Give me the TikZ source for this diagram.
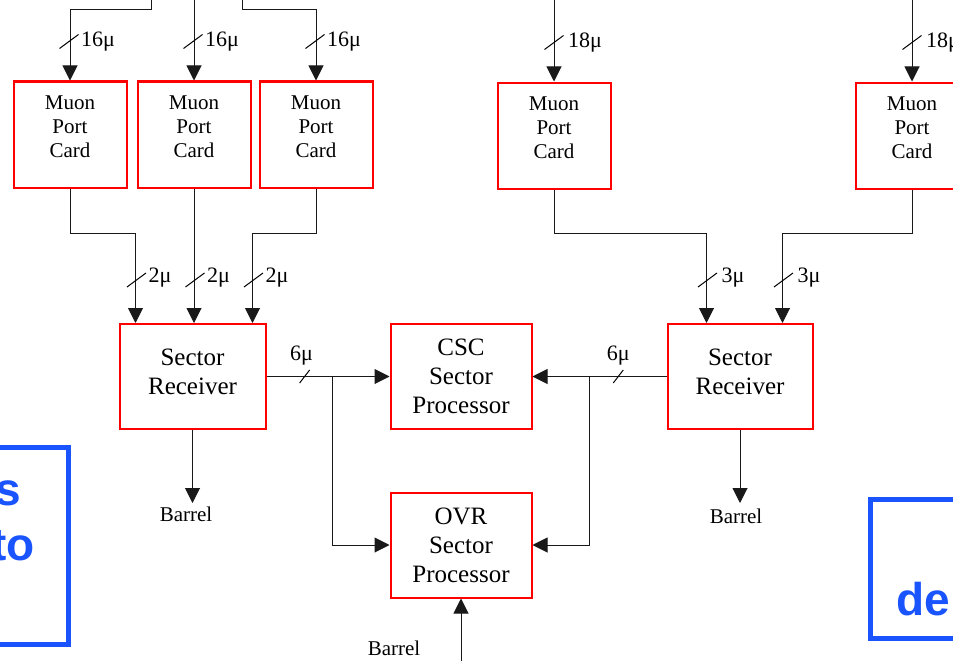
\documentclass[tikz,border=0pt]{standalone}
\usepackage{fontspec}
\setmainfont{Liberation Serif}
\setsansfont{Liberation Sans}
\usetikzlibrary{arrows.meta,calc}
\definecolor{boxred}{RGB}{255,0,0}
\definecolor{slideblue}{RGB}{26,84,255}
\newcommand\mpcsize{\fontsize{21}{24}\selectfont}
\newcommand\unitsize{\fontsize{25}{29}\selectfont}
\newcommand\bussize{\fontsize{22}{24}\selectfont}
\newcommand\barrelsize{\fontsize{21}{24}\selectfont}
\newcommand\slidesize{\fontsize{46}{54}\selectfont}
\begin{document}
\begin{tikzpicture}[x=1pt,y=-1pt,
  wire/.style={line width=1pt,black!90},
  arr/.style={wire,-{Triangle[length=15pt,width=15pt]}},
  redbox/.style={draw=boxred,line width=2pt,inner sep=0pt},
  card/.style={redbox,minimum width=113pt,minimum height=106pt,
    label={[font=\mpcsize,align=center,yshift=8pt]center:Muon\\Port\\Card}},
  unit/.style={redbox,font=\unitsize,align=center,minimum height=105pt},
  receiver/.style={redbox,minimum height=105pt,
    label={[font=\unitsize,align=center,yshift=5pt]center:Sector\\Receiver}},
  buslabel/.style={font=\bussize,inner sep=0pt},
  barrel/.style={font=\barrelsize,inner sep=0pt},
  slideframe/.style={draw=slideblue,line width=5pt},
  slidetext/.style={font=\slidesize\sffamily\bfseries,text=slideblue,inner sep=0pt},
  busmark/.pic={\draw[line width=1pt] (-9.5,7) -- (9.5,-7);},
  hbusmark/.pic={\draw[line width=1pt] (-5,6.5) -- (5,-6.5);}
]
\useasboundingbox (0,0) rectangle (953,661);
\clip (0,0) rectangle (953,661);

% ---- port cards ----
\node[card] (mpc1) at (70,134.5) {};
\node[card] (mpc2) at (194,134.5) {};
\node[card] (mpc3) at (316,134.5) {};
\node[card] (mpc4) at (554,135.5) {};
\node[card] (mpc5) at (912,135.5) {};

% ---- receivers and processors ----
\node[receiver,minimum width=146pt] (sr1) at (192.5,376.5) {};
\node[receiver,minimum width=145pt] (sr2) at (740,376.5) {};
\node[unit,minimum width=141pt] (csc) at (461,376.5) {CSC\\Sector\\Processor};
\node[unit,minimum width=141pt] (ovr) at (461,545) {OVR\\Sector\\Processor};

% ---- inputs to the port cards ----
\coordinate (t1) at (151,0);
\coordinate (t2) at (194,0);
\coordinate (t3) at (242,0);
\coordinate (t4) at (554,0);
\coordinate (t5) at (912,0);
\draw[arr] (t1) -- ++(0,10) -| (mpc1.north);
\draw[arr] (t2) -- (mpc2.north);
\draw[arr] (t3) -- ++(0,10) -| (mpc3.north);
\draw[arr] (t4) -- (mpc4.north);
\draw[arr] (t5) -- (mpc5.north);

\foreach \n in {mpc1,mpc2,mpc3}{
  \pic at ($(\n.north)+(-1,-39)$) {busmark};
  \node[buslabel,anchor=base west] at ($(\n.north)+(11,-34)$) {16μ};
}
\foreach \n in {mpc4,mpc5}{
  \pic at ($(\n.north)+(0,-39)$) {busmark};
  \node[buslabel,anchor=base west] at ($(\n.north)+(14,-34)$) {18μ};
}

% ---- port cards to receivers ----
\coordinate (sr1in1) at ($(sr1.north west)+(17,0)$);
\coordinate (sr1in3) at ($(sr1.north east)+(-14,0)$);
\coordinate (sr1in2) at (mpc2.south |- sr1.north);
\coordinate (sr2in1) at ($(sr2.north west)+(40,0)$);
\coordinate (sr2in2) at ($(sr2.north east)+(-31,0)$);
\draw[arr] (mpc1.south) -- ++(0,45) -| (sr1in1);
\draw[arr] (mpc2.south) -- (sr1in2);
\draw[arr] (mpc3.south) -- ++(0,45) -| (sr1in3);
\draw[arr] (mpc4.south) -- ++(0,44) -| (sr2in1);
\draw[arr] (mpc5.south) -- ++(0,44) -| (sr2in2);

\foreach \c in {sr1in1,sr1in2,sr1in3}{
  \pic at ($(\c)+(1,-43)$) {busmark};
  \node[buslabel,anchor=base west] at ($(\c)+(13,-41)$) {2μ};
}
\foreach \c in {sr2in1,sr2in2}{
  \pic at ($(\c)+(1,-43)$) {busmark};
  \node[buslabel,anchor=base west] at ($(\c)+(15,-41)$) {3μ};
}

% ---- receivers to sector processors ----
\draw[arr] (sr1.east) -- coordinate[pos=0.31] (m1) coordinate[pos=0.54] (j1) (csc.west);
\draw[arr] (j1) |- (ovr.west);
\draw[arr] (sr2.west) -- coordinate[pos=0.36] (m2) coordinate[pos=0.578] (j2) (csc.east);
\draw[arr] (j2) |- (ovr.east);
\pic at (m1) {hbusmark};
\pic at (m2) {hbusmark};
\node[buslabel,anchor=base] at ($(m1)+(-3,-16)$) {6μ};
\node[buslabel,anchor=base] at ($(m2)+(0,-16)$) {6μ};

% ---- barrel links ----
\node[barrel] (b1) at (186,514) {Barrel};
\node[barrel] (b2) at (736,516) {Barrel};
\node[barrel] (b3) at (394,648) {Barrel};
\draw[arr] (sr1.south) -- (sr1.south |- 0,503);
\draw[arr] (sr2.south) -- (sr2.south |- 0,503);
\draw[arr] (ovr.south |- 0,668) -- (ovr.south);

% ---- overlaid slide frames ----
\draw[slideframe] (-20,447.5) rectangle (68.5,644.5);
\draw[slideframe] (870.5,499.5) rectangle (990,638.5);
\node[slidetext,anchor=base east] at (21,505) {s};
\node[slidetext,anchor=base east] at (35,560) {to};
\node[slidetext,anchor=base west] at (896,615) {de};
\end{tikzpicture}
\end{document}
